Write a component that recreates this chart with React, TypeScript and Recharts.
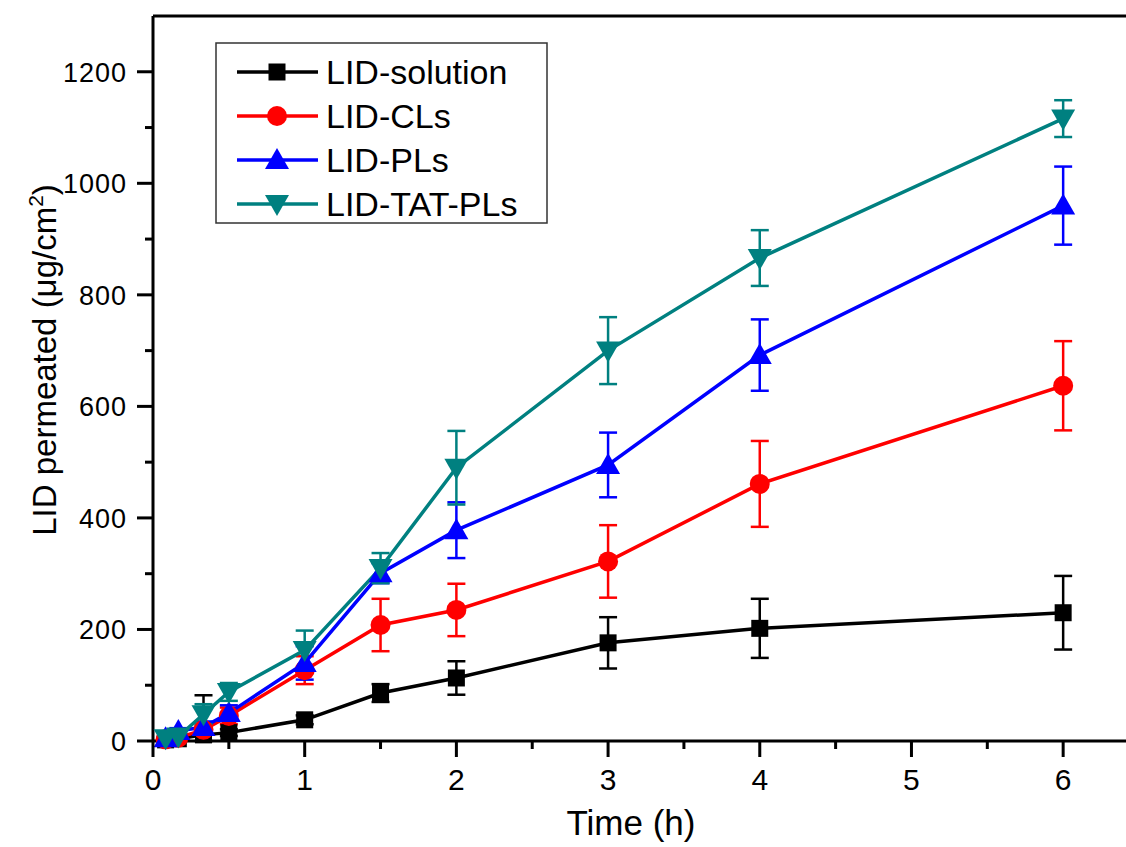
import { LineChart, Line, XAxis, YAxis, ErrorBar, ReferenceLine, Legend, Label } from 'recharts';

const times = [0.083, 0.167, 0.333, 0.5, 1, 1.5, 2, 3, 4, 6];

const solution = [2, 4, 11, 15, 38, 86, 113, 176, 202, 230];
const solutionErr: (number | number[])[] = [1, 2, [11, 71], 6, 8, 16, 30, 46, 53, 66];
const cls = [3, 6, 20, 45, 127, 208, 235, 322, 461, 637];
const clsErr = [2, 3, 8, 15, 25, 47, 47, 65, 77, 80];
const pls = [5, 18, 25, 50, 140, 301, 378, 495, 692, 960];
const plsErr = [2, 5, 10, 14, 30, 18, 50, 58, 64, 70];
const tat = [5, 8, 48, 88, 163, 310, 490, 700, 866, 1116];
const tatErr = [2, 4, 18, 16, 35, 27, 66, 60, 50, 33];

const xTicks = [0, 0.5, 1, 1.5, 2, 2.5, 3, 3.5, 4, 4.5, 5, 5.5, 6];
const yTicks = [0, 100, 200, 300, 400, 500, 600, 700, 800, 900, 1000, 1100, 1200];

const seriesNames = ['LID-solution', 'LID-CLs', 'LID-PLs', 'LID-TAT-PLs'];
const colors = ['#000000', '#ff0000', '#0000ff', '#008080'];

const chartData = times.map((t, i) => ({
  t,
  solution: solution[i],
  solutionErr: solutionErr[i],
  cls: cls[i],
  clsErr: clsErr[i],
  pls: pls[i],
  plsErr: plsErr[i],
  tat: tat[i],
  tatErr: tatErr[i],
}));

const FONT = '"Liberation Sans", Arial, sans-serif';

function Marker({ shape, cx, cy, color }: { shape: string; cx: number; cy: number; color: string }) {
  if (cx == null || cy == null) return null;
  if (shape === 'square') return <rect x={cx - 8.5} y={cy - 8.5} width={17} height={17} fill={color} />;
  if (shape === 'circle') return <circle cx={cx} cy={cy} r={10} fill={color} />;
  if (shape === 'up')
    return <polygon points={`${cx},${cy - 12} ${cx - 12},${cy + 9} ${cx + 12},${cy + 9}`} fill={color} />;
  return <polygon points={`${cx},${cy + 12} ${cx - 12},${cy - 9} ${cx + 12},${cy - 9}`} fill={color} />;
}

const shapes = ['square', 'circle', 'up', 'down'];

const makeDot = (idx: number) => (props: any) => (
  <Marker key={`${idx}-${props.index}`} shape={shapes[idx]} cx={props.cx} cy={props.cy} color={colors[idx]} />
);

function XTick(props: any) {
  const { x, y, payload } = props;
  const major = Number.isInteger(payload.value);
  return (
    <g>
      <line x1={x} x2={x} y1={y} y2={y + (major ? 16 : 8)} stroke="#000" strokeWidth={3} />
      {major && (
        <text x={x} y={y + 49} textAnchor="middle" fontSize={30} fontFamily={FONT} fill="#000">
          {payload.value}
        </text>
      )}
    </g>
  );
}

function YTick(props: any) {
  const { x, y, payload } = props;
  const major = payload.value % 200 === 0;
  return (
    <g>
      <line x1={x} x2={x - (major ? 16 : 8)} y1={y} y2={y} stroke="#000" strokeWidth={3} />
      {major && (
        <text x={x - 26} y={y + 10} textAnchor="end" fontSize={27} fontFamily={FONT} fill="#000" letterSpacing={1}>
          {payload.value}
        </text>
      )}
    </g>
  );
}

function LegendBox() {
  const rows = [30, 74, 118, 162];
  return (
    <svg width={334} height={184}>
      <rect x={1} y={1} width={331} height={180} fill="#fff" stroke="#333" strokeWidth={1.5} />
      {seriesNames.map((name, i) => (
        <g key={name}>
          <line x1={22} x2={103} y1={rows[i]} y2={rows[i]} stroke={colors[i]} strokeWidth={3.5} />
          <Marker shape={shapes[i]} cx={62} cy={rows[i]} color={colors[i]} />
          <text x={111} y={rows[i] + 12} fontSize={34} fontFamily={FONT} fill="#000">
            {name}
          </text>
        </g>
      ))}
    </svg>
  );
}

function YLabel() {
  return (
    <text
      transform="translate(56,360) rotate(-90)"
      textAnchor="middle"
      fontSize={33}
      fontFamily={FONT}
      fill="#000"
    >
      LID permeated (μg/cm
      <tspan dy={-13} fontSize={21}>2</tspan>
      <tspan dy={13}>)</tspan>
    </text>
  );
}

function XLabel() {
  return (
    <text x={631} y={835} textAnchor="middle" fontSize={35} fontFamily={FONT} fill="#000">
      Time (h)
    </text>
  );
}

export default function App() {
  const keys = ['solution', 'cls', 'pls', 'tat'];
  return (
    <div style={{ position: 'absolute', left: 0, top: 0, width: 1126, height: 847, overflow: 'hidden', background: '#fff' }}>
      <LineChart width={1140} height={847} data={chartData} margin={{ top: 16, right: 1, bottom: 0, left: 0 }}>
        <XAxis
          dataKey="t"
          type="number"
          domain={[0, 6.5]}
          ticks={xTicks}
          interval={0}
          height={106}
          tickSize={0}
          tickMargin={0}
          tickLine={false}
          tick={<XTick />}
          axisLine={{ stroke: '#000', strokeWidth: 3 }}
        >
          <Label content={<XLabel />} />
        </XAxis>
        <YAxis
          type="number"
          domain={[0, 1300]}
          ticks={yTicks}
          interval={0}
          width={153}
          tickSize={0}
          tickMargin={0}
          tickLine={false}
          tick={<YTick />}
          axisLine={{ stroke: '#000', strokeWidth: 3 }}
        >
          <Label content={<YLabel />} />
        </YAxis>
        <ReferenceLine y={1300} stroke="#000" strokeWidth={3} />
        <Legend
          verticalAlign="middle"
          align="center"
          layout="horizontal"
          wrapperStyle={{ position: 'absolute', left: 215, top: 42, width: 334, height: 184 }}
          content={() => <LegendBox />}
        />
        {keys.map((k, i) => (
          <Line
            key={k}
            type="linear"
            dataKey={k}
            name={seriesNames[i]}
            stroke={colors[i]}
            strokeWidth={3.5}
            dot={makeDot(i)}
            activeDot={false}
            isAnimationActive={false}
          >
            <ErrorBar dataKey={`${k}Err`} width={9} stroke={colors[i]} strokeWidth={2.5} direction="y" />
          </Line>
        ))}
      </LineChart>
    </div>
  );
}
